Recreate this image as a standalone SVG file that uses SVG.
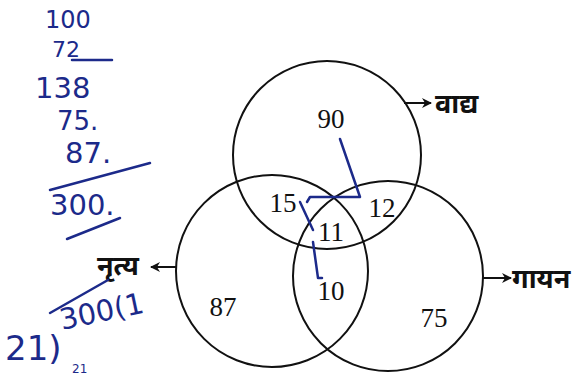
<svg xmlns="http://www.w3.org/2000/svg" width="573" height="376" viewBox="0 0 573 376">
<style>
.c{fill:none;stroke:#111;stroke-width:2}
.n{font-family:"Liberation Serif",serif;font-size:27px;fill:#111;text-anchor:middle}
.l{font-family:"Noto Sans Devanagari","Noto Sans","Lohit Devanagari",sans-serif;font-size:27px;font-weight:bold;fill:#111}
.a{stroke:#111;stroke-width:2;fill:none}
.h{font-family:"DejaVu Sans","Liberation Sans",sans-serif;font-size:29px;fill:#1c2a8a}
.hl{stroke:#1c2a8a;stroke-width:2.5;fill:none;stroke-linecap:round;stroke-linejoin:round}
</style>
<defs>
<marker id="ar" markerWidth="10" markerHeight="10" refX="9" refY="5" orient="auto" markerUnits="userSpaceOnUse">
<path d="M0,0 L10,5 L0,10 L3,5 z" fill="#111"/>
</marker>
</defs>
<rect width="573" height="376" fill="#fff"/>
<g id="vadya">
<circle class="c" cx="327" cy="155" r="94"/>
<text class="n" x="331" y="128">90</text>
</g>
<g id="nritya">
<circle class="c" cx="272" cy="271" r="96"/>
<text class="n" x="223" y="316">87</text>
</g>
<g id="gayan">
<circle class="c" cx="388" cy="276" r="95"/>
<text class="n" x="434" y="327">75</text>
</g>
<g id="regions">
<text class="n" x="283" y="212">15</text>
<text class="n" x="382" y="217">12</text>
<text class="n" x="331" y="241">11</text>
<text class="n" x="331" y="300">10</text>
</g>
<g id="connectors">
<line class="a" x1="404" y1="103" x2="431" y2="103" marker-end="url(#ar)"/>
<line class="a" x1="483" y1="278" x2="511" y2="278" marker-end="url(#ar)"/>
<line class="a" x1="177" y1="267" x2="151" y2="267" marker-end="url(#ar)"/>
</g>
<g id="labels">
<text class="l" x="435" y="113">वाद्य</text>
<text class="l" x="512" y="288">गायन</text>
<text class="l" x="97" y="275">नृत्य</text>
</g>
<g id="handwriting">
<path class="hl" d="M340,139 L360,197 L310,197 L307,202"/>
<path class="hl" d="M300,202 L313,230"/>
<path class="hl" d="M313,242 L318,278 L322,278"/>
<text class="h" x="45" y="28" style="font-size:24px">100</text>
<text class="h" x="52" y="57" style="font-size:22px">72</text>
<path class="hl" d="M72,60 L112,60"/>
<text class="h" x="35" y="98">138</text>
<text class="h" x="57" y="130" style="font-size:26px">75.</text>
<text class="h" x="65" y="163">87.</text>
<path class="hl" d="M50,190 L150,163"/>
<text class="h" x="50" y="215">300.</text>
<path class="hl" d="M67,239 L120,218"/>
<path class="hl" d="M50,313 L108,280"/>
<text class="h" x="5" y="360" style="font-size:34px">21)</text>
<text class="h" x="62" y="330" transform="rotate(-12 62 330)">300(1</text>
<text class="h" x="72" y="373" style="font-size:12px">21</text>
</g>
</svg>
